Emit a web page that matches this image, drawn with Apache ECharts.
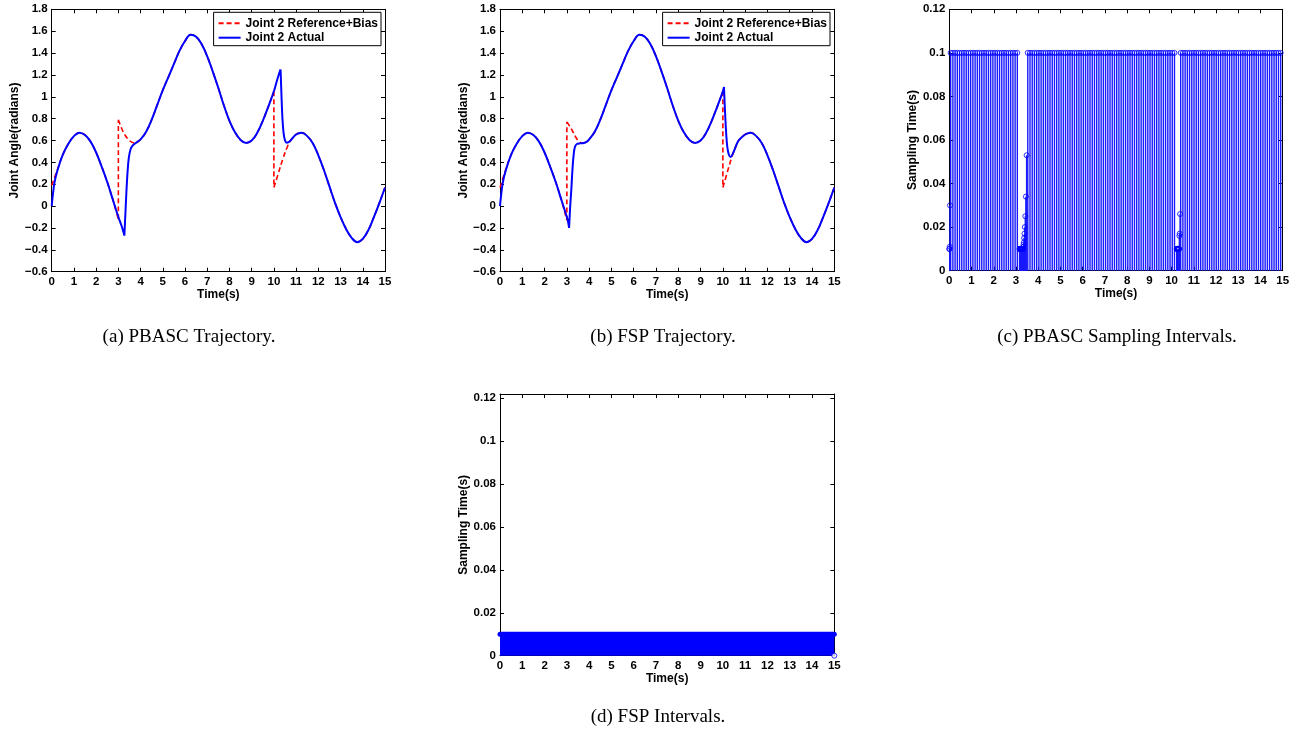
<!DOCTYPE html>
<html><head><meta charset="utf-8">
<script src="https://cdn.jsdelivr.net/npm/echarts/dist/echarts.min.js"></script>
<style>html,body{margin:0;padding:0;background:#fff}#c{width:1311px;height:731px}</style>
</head><body><div id="c"></div>
<script>
// ---------- data ----------
const NAME_REF = 'Joint 2 Reference+Bias';
const NAME_ACT = 'Joint 2 Actual';

// shared smooth stretches of the joint-2 reference (time s, angle rad)
const seg1T = [0.5, 0.75, 1, 1.25, 1.5, 1.75, 2, 2.25, 2.5, 2.75];
const seg1Y = [0.47, 0.57, 0.64, 0.672, 0.65, 0.59, 0.49, 0.36, 0.22, 0.06];
const seg2T = [4, 4.25, 4.5, 4.75, 5, 5.25, 5.5, 5.75, 6, 6.25, 6.5, 6.75, 7, 7.25, 7.5, 7.75, 8, 8.25, 8.5, 8.75, 9, 9.25, 9.5, 9.75, 10];
const seg2Y = [0.61, 0.68, 0.79, 0.925, 1.06, 1.18, 1.3, 1.42, 1.51, 1.568, 1.55, 1.48, 1.37, 1.23, 1.08, 0.92, 0.78, 0.675, 0.605, 0.578, 0.6, 0.67, 0.78, 0.91, 1.05];
const seg3T = [11, 11.25, 11.5, 11.75, 12, 12.25, 12.5, 12.75, 13, 13.25, 13.5, 13.75, 14, 14.25, 14.5, 14.75, 15];
const seg3Y = [0.655, 0.672, 0.64, 0.575, 0.465, 0.33, 0.18, 0.03, -0.1, -0.21, -0.29, -0.33, -0.3, -0.22, -0.1, 0.03, 0.17];

// (a) PBASC trajectory  (null = break in the line)
const aRefT = [0, 0.25, ...seg1T, 3, 3, 3, 3, 3, 3, 3.15, 3.3, 3.45, 3.6, 3.75, ...seg2T, 10, 10, 10, 10, 10, 10.2, 10.4, 10.6, 10.72, ...seg3T];
const aRefY = [0.19, 0.33, ...seg1Y, -0.12, null, -0.12, 0.79, null, 0.79, 0.71, 0.65, 0.61, 0.585, 0.578, ...seg2Y, null, 1.05, 0.17, null, 0.17, 0.3, 0.43, 0.54, 0.59, ...seg3Y];
const aActT = [0, 0.05, 0.13, 0.25, ...seg1T, 3, 3.1, 3.2, 3.27, 3.27, 3.27, 3.31, 3.36, 3.41, 3.47, 3.55, 3.65, 3.8, ...seg2T, 10.1, 10.2, 10.3, 10.3, 10.3, 10.34, 10.38, 10.43, 10.5, 10.58, 10.66, 10.75, ...seg3T];
const aActY = [0, 0.1, 0.22, 0.32, ...seg1Y, -0.1, -0.155, -0.215, -0.27, null, -0.27, -0.1, 0.12, 0.3, 0.44, 0.52, 0.555, 0.58, ...seg2Y, 1.12, 1.19, 1.25, null, 1.25, 1.02, 0.82, 0.68, 0.6, 0.58, 0.585, 0.6, ...seg3Y];

// (b) FSP trajectory
const bRefT = [0, 0.25, ...seg1T, 3, 3, 3, 3, 3, 3, 3.1, 3.22, 3.4, 3.55, 3.7, 3.85, ...seg2T, 10, 10, 10, 10, 10, 10.2, 10.4, 10.45, 10.55, 10.65, 10.75, ...seg3T];
const bRefY = [0.17, 0.33, ...seg1Y, -0.13, null, -0.13, 0.77, null, 0.77, 0.74, 0.7, 0.63, 0.59, 0.577, 0.585, ...seg2Y, null, 1.05, 0.17, null, 0.17, 0.31, 0.45, 0.48, 0.53, 0.58, 0.61, ...seg3Y];
const bActT = [0, 0.05, 0.13, 0.25, ...seg1T, 3, 3.05, 3.1, 3.1, 3.1, 3.15, 3.2, 3.25, 3.3, 3.36, 3.45, 3.6, 3.75, 3.9, ...seg2T, 10.05, 10.05, 10.05, 10.1, 10.15, 10.2, 10.27, 10.35, 10.45, 10.55, 10.65, 10.75, ...seg3T];
const bActY = [0, 0.1, 0.22, 0.32, ...seg1Y, -0.1, -0.14, -0.2, null, -0.2, 0.0, 0.15, 0.33, 0.46, 0.54, 0.568, 0.574, 0.577, 0.59, ...seg2Y, 1.09, null, 1.09, 0.85, 0.66, 0.54, 0.47, 0.45, 0.48, 0.53, 0.58, 0.61, ...seg3Y];

// (c) PBASC sampling intervals, one per sample (s); sample instants follow from them
const pbascIntervals = [
  0.01, 0.01, 0.011, 0.03,
  0.1, 0.1, 0.1, 0.1, 0.1, 0.1, 0.1, 0.1, 0.1, 0.1,
  0.1, 0.1, 0.1, 0.1, 0.1, 0.1, 0.1, 0.1, 0.1, 0.1,
  0.1, 0.1, 0.1, 0.1, 0.1, 0.1, 0.1, 0.1, 0.1, 0.1,
  0.1,
  0.01, 0.01, 0.01, 0.01, 0.01, 0.01, 0.01, 0.01, 0.01, 0.01,
  0.01, 0.01, 0.01, 0.01, 0.01, 0.01, 0.01,
  0.011, 0.012, 0.013, 0.015, 0.017, 0.02, 0.025, 0.034, 0.053,
  0.1, 0.1, 0.1, 0.1, 0.1, 0.1, 0.1, 0.1, 0.1, 0.1,
  0.1, 0.1, 0.1, 0.1, 0.1, 0.1, 0.1, 0.1, 0.1, 0.1,
  0.1, 0.1, 0.1, 0.1, 0.1, 0.1, 0.1, 0.1, 0.1, 0.1,
  0.1, 0.1, 0.1, 0.1, 0.1, 0.1, 0.1, 0.1, 0.1, 0.1,
  0.1, 0.1, 0.1, 0.1, 0.1, 0.1, 0.1, 0.1, 0.1, 0.1,
  0.1, 0.1, 0.1, 0.1, 0.1, 0.1, 0.1, 0.1, 0.1, 0.1,
  0.1, 0.1, 0.1, 0.1, 0.1, 0.1, 0.1,
  0.01, 0.01, 0.01, 0.01, 0.01, 0.01, 0.01, 0.01, 0.01, 0.01,
  0.01, 0.01,
  0.016, 0.017, 0.026,
  0.1, 0.1, 0.1, 0.1, 0.1, 0.1, 0.1, 0.1, 0.1, 0.1,
  0.1, 0.1, 0.1, 0.1, 0.1, 0.1, 0.1, 0.1, 0.1, 0.1,
  0.1, 0.1, 0.1, 0.1, 0.1, 0.1, 0.1, 0.1, 0.1, 0.1,
  0.1, 0.1, 0.1, 0.1, 0.1, 0.1, 0.1, 0.1, 0.1, 0.1,
  0.1, 0.1, 0.1, 0.1, 0.1, 0.1
];

// (d) FSP: fixed 0.01 s interval over the whole run, last sample 0
const fspT = [0, 15];
const fspY = [0.01, 0.01];
const fspEndT = [15];
const fspEndY = [0];

const captions = ['(a) PBASC Trajectory.', '(b) FSP Trajectory.', '(c) PBASC Sampling Intervals.', '(d) FSP Intervals.'];

// ---------- build ----------
function pairs(ts, ys) { return ts.map((t, i) => [t, ys[i] === null ? '-' : ys[i]]); }
const pbascTimes = [];
let acc = 0;
pbascIntervals.forEach(h => { pbascTimes.push(acc); acc += h; });
const pbascData = pbascTimes.map((t, i) => [t, pbascIntervals[i]]);

const SANS = 'Liberation Sans';
const lab = { color: '#000', fontFamily: SANS, fontWeight: 'bold', fontSize: 11.5 };
const grids = [
  { left: 51.7, top: 9.3, width: 333.3, height: 262.4 },
  { left: 500, top: 9.3, width: 334.3, height: 262.4 },
  { left: 949.3, top: 9.3, width: 333.4, height: 261.4 },
  { left: 500, top: 394, width: 334.3, height: 261.7 }
].map(g => Object.assign({ show: false, containLabel: false, outerBoundsMode: 'none' }, g));

const fmt1 = v => { const r = Math.round(v * 10) / 10; return (r === 0 ? '0' : String(r)).replace('-', '\u2212'); };
const fmt2 = v => { const k = v / 0.02; if (Math.abs(k - Math.round(k)) > 1e-6) return ''; const r = Math.round(v * 100) / 100; return r === 0 ? '0' : String(r); };

const xAxes = [], yAxes = [];
for (let g = 0; g < 4; g++) {
  ['bottom', 'top'].forEach(pos => xAxes.push({
    type: 'value', gridIndex: g, position: pos, min: 0, max: 15, interval: 1,
    axisLine: { show: true, onZero: false, lineStyle: { color: '#000', width: 1 } },
    axisTick: { show: true, inside: true, length: 4, lineStyle: { color: '#000', width: 1 } },
    axisLabel: Object.assign({ show: pos === 'bottom', margin: 4, showMinLabel: true, showMaxLabel: true }, lab),
    splitLine: { show: false },
    name: pos === 'bottom' ? 'Time(s)' : '', nameLocation: 'middle', nameGap: 16,
    nameTextStyle: { color: '#000', fontFamily: SANS, fontWeight: 'bold', fontSize: 12 }
  }));
  const traj = g < 2;
  ['left', 'right'].forEach(pos => yAxes.push({
    type: 'value', gridIndex: g, position: pos,
    min: traj ? -0.6 : 0, max: traj ? 1.8 : (g === 3 ? 0.122 : 0.12), interval: traj ? 0.2 : 0.02,
    axisLine: { show: true, onZero: false, lineStyle: { color: '#000', width: 1 } },
    axisTick: { show: true, inside: true, length: 4, lineStyle: { color: '#000', width: 1 } },
    axisLabel: Object.assign({ show: pos === 'left', margin: 4, formatter: traj ? fmt1 : fmt2, showMinLabel: true, showMaxLabel: true }, lab),
    splitLine: { show: false },
    name: pos === 'left' ? (traj ? 'Joint Angle(radians)' : 'Sampling Time(s)') : '',
    nameLocation: 'middle', nameGap: 30,
    nameTextStyle: { color: '#000', fontFamily: SANS, fontWeight: 'bold', fontSize: 12 }
  }));
}

function lineSeries(name, gi, data, color, dashed, width) {
  return {
    type: 'line', name, xAxisIndex: gi * 2, yAxisIndex: gi * 2, data,
    smooth: 0.4, symbol: 'none', showSymbol: false, connectNulls: false,
    lineStyle: { color, width, type: dashed ? [5, 3] : 'solid' },
    itemStyle: { color }, emphasis: { disabled: true }, z: dashed ? 2 : 3
  };
}

const series = [
  lineSeries(NAME_REF, 0, pairs(aRefT, aRefY), '#ff0000', true, 1.6),
  lineSeries(NAME_ACT, 0, pairs(aActT, aActY), '#0000ff', false, 2),
  lineSeries(NAME_REF, 1, pairs(bRefT, bRefY), '#ff0000', true, 1.6),
  lineSeries(NAME_ACT, 1, pairs(bActT, bActY), '#0000ff', false, 2),
  {
    type: 'bar', xAxisIndex: 4, yAxisIndex: 4, data: pbascData, barWidth: 1.4,
    itemStyle: { color: '#1a1aff' }, emphasis: { disabled: true }
  },
  {
    type: 'scatter', xAxisIndex: 4, yAxisIndex: 4, data: pbascData, symbol: 'circle', symbolSize: 5,
    itemStyle: { color: 'rgba(0,0,0,0)', borderColor: '#0000ff', borderWidth: 1 }, emphasis: { disabled: true }, z: 4
  },
  {
    type: 'line', xAxisIndex: 6, yAxisIndex: 6, data: pairs(fspT, fspY), symbol: 'none', clip: false,
    lineStyle: { color: '#0000ff', width: 5, cap: 'round' }, areaStyle: { color: '#0000ff', opacity: 1 },
    emphasis: { disabled: true }
  },
  {
    type: 'scatter', xAxisIndex: 6, yAxisIndex: 6, data: pairs(fspEndT, fspEndY), symbol: 'circle', symbolSize: 5, clip: false,
    itemStyle: { color: '#fff', borderColor: '#0000ff', borderWidth: 1 }, emphasis: { disabled: true }, z: 4
  }
];

const legendBase = {
  data: [NAME_REF, NAME_ACT], orient: 'vertical', top: 12.3,
  backgroundColor: '#fff', borderColor: '#000', borderWidth: 1, borderRadius: 0,
  padding: [5, 3, 2, 4], itemWidth: 22, itemHeight: 11, itemGap: 2.4, selectedMode: false,
  itemStyle: { opacity: 0 },
  textStyle: { color: '#000', fontFamily: SANS, fontWeight: 'bold', fontSize: 12 }
};
const legends = [
  Object.assign({}, legendBase, { right: 1311 - 381 }),
  Object.assign({}, legendBase, { right: 1311 - 830 })
];

const capPos = [[189, 337], [663, 337], [1117, 337], [658, 717]];
const graphic = captions.map((t, i) => ({
  type: 'text', x: capPos[i][0], y: capPos[i][1], silent: true,
  style: { text: t, font: '19px "Liberation Serif"', fill: '#000', align: 'center', verticalAlign: 'middle', textAlign: 'center', textVerticalAlign: 'middle' }
}));

const chart = echarts.init(document.getElementById('c'), null, { renderer: 'canvas' });
chart.setOption({
  animation: false, backgroundColor: '#fff',
  grid: grids, xAxis: xAxes, yAxis: yAxes, series, legend: legends, graphic
});
</script></body></html>
